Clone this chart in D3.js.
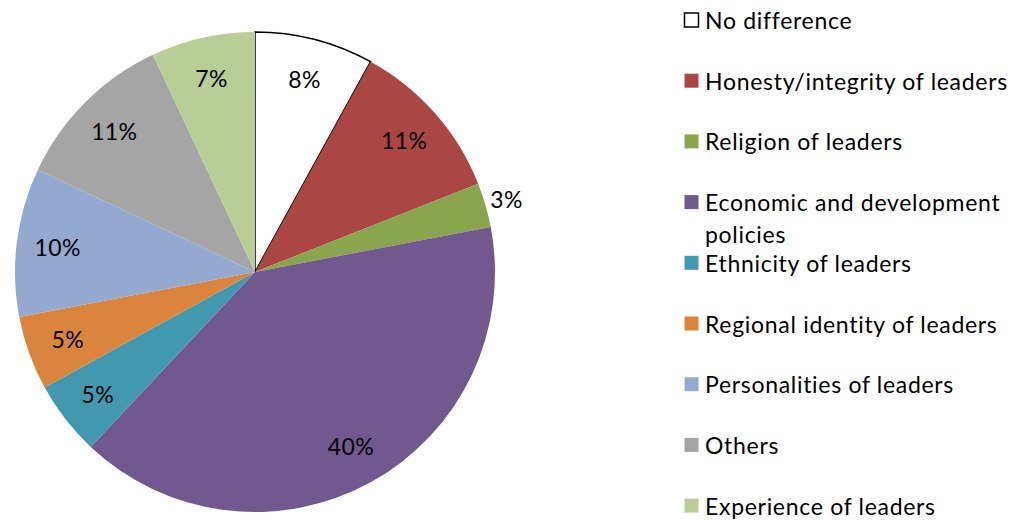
<!DOCTYPE html>
<html>
<head>
<meta charset="utf-8">
<script src="https://cdn.jsdelivr.net/npm/d3@7"></script>
<style>
  html, body { margin: 0; padding: 0; background: #fff; }
  svg { display: block; }
  text { font-family: Lato, "Open Sans", sans-serif; fill: #000; }
</style>
</head>
<body>
<svg id="chart" width="1017" height="520"></svg>
<script>
// Factors that matter when choosing leaders (share of responses, %)
const categories = [
  "No difference",
  "Honesty/integrity of leaders",
  "Religion of leaders",
  "Economic and development policies",
  "Ethnicity of leaders",
  "Regional identity of leaders",
  "Personalities of leaders",
  "Others",
  "Experience of leaders"
];
const values = [8, 11, 3, 40, 5, 5, 10, 11, 7];
const colors = ["#FFFFFF", "#AA4643", "#89A54E", "#71588F", "#4198AF",
                "#DB843D", "#93A9CF", "#A5A5A5", "#B9CD96"];
// Legend entries split onto lines as they are shown
const legendLines = [
  ["No difference"],
  ["Honesty/integrity of leaders"],
  ["Religion of leaders"],
  ["Economic and development", "policies"],
  ["Ethnicity of leaders"],
  ["Regional identity of leaders"],
  ["Personalities of leaders"],
  ["Others"],
  ["Experience of leaders"]
];

const svg = d3.select("#chart");
const cx = 255, cy = 272, R = 240;

const data = categories.map((c, i) => ({ name: c, value: values[i], color: colors[i], lines: legendLines[i] }));

const pie = d3.pie().value(d => d.value).sort(null);
const arcs = pie(data);
const arc = d3.arc().innerRadius(0).outerRadius(R);
const labelArc = d3.arc().innerRadius(199).outerRadius(199);
const outerLabelArc = d3.arc().innerRadius(262).outerRadius(262);

const g = svg.append("g").attr("transform", `translate(${cx},${cy})`);

g.selectAll("path.slice")
  .data(arcs)
  .enter().append("path")
  .attr("class", "slice")
  .attr("d", arc)
  .attr("fill", d => d.data.color)
  .attr("stroke", d => d.data.color === "#FFFFFF" ? "#000" : "none")
  .attr("stroke-width", 1.5);

// Small slices get their label outside the pie
g.selectAll("text.lbl")
  .data(arcs)
  .enter().append("text")
  .attr("class", "lbl")
  .attr("transform", d => `translate(${(d.data.value < 4 ? outerLabelArc : labelArc).centroid(d)})`)
  .attr("text-anchor", "middle")
  .attr("dominant-baseline", "central")
  .style("font-size", "23px")
  .style("letter-spacing", "0.4px")
  .text(d => d.data.value + "%");

// Legend
const legendX = 684, legendY0 = 20, legendStep = 60.7, sq = 14;
const lg = svg.append("g");
const items = lg.selectAll("g.item")
  .data(data)
  .enter().append("g")
  .attr("class", "item")
  .attr("transform", (d, i) => `translate(${legendX},${legendY0 + i * legendStep})`);

items.append("rect")
  .attr("x", 0.5).attr("y", -sq / 2)
  .attr("width", sq).attr("height", sq)
  .attr("fill", d => d.color)
  .attr("stroke", d => d.color === "#FFFFFF" ? "#000" : "none")
  .attr("stroke-width", 1.5);

items.each(function(d) {
  const t = d3.select(this).append("text")
    .attr("x", 21)
    .attr("dominant-baseline", "central")
    .style("font-size", "23px")
    .style("letter-spacing", "0.7px");
  d.lines.forEach((ln, k) => {
    t.append("tspan").attr("x", 21).attr("y", k * 32).text(ln);
  });
});
</script>
</body>
</html>
